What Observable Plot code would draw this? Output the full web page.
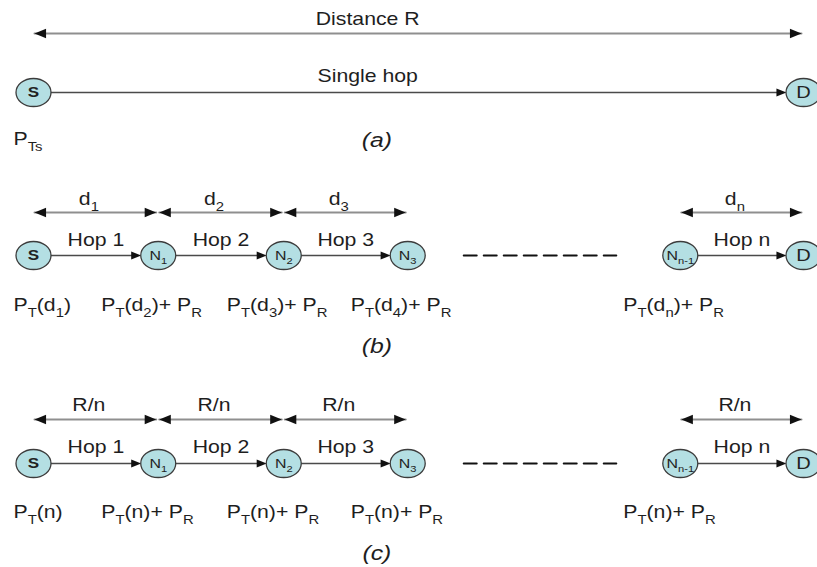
<!DOCTYPE html>
<html>
<head>
<meta charset="utf-8">
<script src="https://cdn.jsdelivr.net/npm/d3@7"></script>
<script src="https://cdn.jsdelivr.net/npm/@observablehq/plot@0.6"></script>
<style>
  html, body { margin: 0; padding: 0; background: #fff; }
  #chart { width: 817px; height: 567px; }
</style>
</head>
<body>
<div id="chart"></div>
<script>
// ---------------- DATA ----------------
// Panel (a): single hop between source and destination (positions as % of distance R)
const singleNodes = ["S", "D"];
const singlePos = [0, 100];
const singleSpanLabel = "Distance R";
const singleHopLabel = "Single hop";
const singlePowerLabel = "P_{Ts}";

// Panels (b), (c): multi-hop chain (positions as % of distance R)
const chainNodes = ["S", "N_1", "N_2", "N_3", "N_{n-1}", "D"];
const chainPos = [0, 16.2, 32.5, 48.6, 84.0, 100];
const hopFrom = [0, 1, 2, 4];
const hopTo = [1, 2, 3, 5];
const hopLabels = ["Hop 1", "Hop 2", "Hop 3", "Hop n"];
const gapFrom = 3, gapTo = 4; // dashed "..." between N3 and N(n-1)

const spanLabelsB = ["d_1", "d_2", "d_3", "d_n"];
const spanLabelsC = ["R/n", "R/n", "R/n", "R/n"];
const powerNodes = [0, 1, 2, 3, 4];
const powerLabelsB = ["P_T(d_1)", "P_T(d_2)+ P_R", "P_T(d_3)+ P_R", "P_T(d_4)+ P_R", "P_T(d_n)+ P_R"];
const powerLabelsC = ["P_T(n)", "P_T(n)+ P_R", "P_T(n)+ P_R", "P_T(n)+ P_R", "P_T(n)+ P_R"];
const captions = ["(a)", "(b)", "(c)"];
const captionPos = 44.6;
const titlePos = 43.4;

// ---------------- LAYOUT (pixel rows) ----------------
const rows = {
  a: {span: 33, spanText: 19, hopText: 76, node: 92, power: 139, caption: 140},
  b: {span: 212, spanText: 199, hopText: 240, node: 255, power: 305, caption: 346},
  c: {span: 419, spanText: 405, hopText: 447, node: 463, power: 512, caption: 553}
};

const FONT = "Liberation Sans, Arial, Helvetica, sans-serif";
const TEXT = "#1e1e1e";
const NODE_FILL = "#b4dfe3";
const NODE_STROKE = "#3c3c3c";
const SPAN_COLOR = "#8f8f8f";
const HOP_COLOR = "#4a4a4a";
const NODE_R = 14;     // ellipse "radius" (ry); rx = 1.25*ry
const NODE_INSET = 17; // half-width of node

// custom symbols
const ellipseSymbol = {
  draw(ctx, size) {
    const r = Math.sqrt(size / Math.PI), rx = r * 1.25, ry = r, k = 0.5523;
    ctx.moveTo(rx, 0);
    ctx.bezierCurveTo(rx, ry * k, rx * k, ry, 0, ry);
    ctx.bezierCurveTo(-rx * k, ry, -rx, ry * k, -rx, 0);
    ctx.bezierCurveTo(-rx, -ry * k, -rx * k, -ry, 0, -ry);
    ctx.bezierCurveTo(rx * k, -ry, rx, -ry * k, rx, 0);
    ctx.closePath();
  }
};
const headRight = {
  draw(ctx, size) {
    const r = Math.sqrt(size / Math.PI);
    ctx.moveTo(0, 0); ctx.lineTo(-2.1 * r, -0.85 * r); ctx.lineTo(-2.1 * r, 0.85 * r); ctx.closePath();
  }
};
const headLeft = {
  draw(ctx, size) {
    const r = Math.sqrt(size / Math.PI);
    ctx.moveTo(0, 0); ctx.lineTo(2.1 * r, -0.85 * r); ctx.lineTo(2.1 * r, 0.85 * r); ctx.closePath();
  }
};

// ---------------- BUILD TABLES ----------------
const spans = [], hops = [], nodes = [], spanTexts = [], hopTexts = [],
      powerFirst = [], powerRest = [], gaps = [], caps = [], titles = [];

// panel a
spans.push({x1: singlePos[0], x2: singlePos[1], y: rows.a.span});
titles.push({x: titlePos, y: rows.a.spanText, t: singleSpanLabel});
titles.push({x: titlePos, y: rows.a.hopText, t: singleHopLabel});
hops.push({x1: singlePos[0], x2: singlePos[1], y: rows.a.node});
singleNodes.forEach((n, i) => { nodes.push({x: singlePos[i], y: rows.a.node, name: n}); });
powerFirst.push({x: singlePos[0], y: rows.a.power, t: singlePowerLabel});

// panels b, c
[["b", spanLabelsB, powerLabelsB], ["c", spanLabelsC, powerLabelsC]].forEach(([p, spanL, powL]) => {
  const r = rows[p];
  hopFrom.forEach((f, i) => {
    const t = hopTo[i];
    spans.push({x1: chainPos[f], x2: chainPos[t], y: r.span});
    spanTexts.push({x: (chainPos[f] + chainPos[t]) / 2, y: r.spanText, t: spanL[i]});
    hops.push({x1: chainPos[f], x2: chainPos[t], y: r.node});
    hopTexts.push({x: (chainPos[f] + chainPos[t]) / 2, y: r.hopText, t: hopLabels[i]});
  });
  chainNodes.forEach((n, i) => nodes.push({x: chainPos[i], y: r.node, name: n}));
  powerNodes.forEach((ni, i) => {
    const d = {x: chainPos[ni], y: r.power, t: powL[i]};
    (i === 0 ? powerFirst : powerRest).push(d);
  });
  gaps.push({x1: chainPos[gapFrom], x2: chainPos[gapTo], y: r.node});
});
captions.forEach((c, i) => caps.push({x: captionPos, y: rows["abc"[i]].caption, t: c}));

const nodeTextSmall = nodes.filter(d => d.name.startsWith("N"));
const nodeS = nodes.filter(d => d.name === "S");
const nodeD = nodes.filter(d => d.name === "D");

// ---------------- PLOT ----------------
const plot = Plot.plot({
  width: 817, height: 567,
  margin: 0,
  style: {fontFamily: FONT, background: "#fff", color: TEXT},
  x: {domain: [0, 100], range: [33, 803], axis: null},
  y: {domain: [0, 567], range: [0, 567], axis: null},
  marks: [
    // distance spans
    Plot.arrow(spans, {x1: "x1", x2: "x2", y1: "y", y2: "y", stroke: SPAN_COLOR, strokeWidth: 2,
      headLength: 0, insetStart: 1, insetEnd: 2}),
    Plot.dot(spans, {x: "x1", y: "y", dx: 1, symbol: headLeft, r: 5.5, fill: "#111", stroke: "none"}),
    Plot.dot(spans, {x: "x2", y: "y", dx: -2, symbol: headRight, r: 5.5, fill: "#111", stroke: "none"}),
    // hop arrows
    Plot.arrow(hops, {x1: "x1", x2: "x2", y1: "y", y2: "y", stroke: HOP_COLOR, strokeWidth: 1.5,
      headLength: 0, insetStart: NODE_INSET, insetEnd: NODE_INSET + 6}),
    Plot.dot(hops, {x: "x2", y: "y", dx: -NODE_INSET, symbol: headRight, r: 4.8, fill: "#111", stroke: "none"}),
    // dashed gap
    Plot.arrow(gaps, {x1: "x1", x2: "x2", y1: "y", y2: "y", stroke: "#111", strokeWidth: 2,
      strokeDasharray: "13,7", headLength: 0, insetStart: 56, insetEnd: 64}),
    // nodes
    Plot.dot(nodes, {x: "x", y: "y", symbol: ellipseSymbol, r: NODE_R, fill: NODE_FILL,
      stroke: NODE_STROKE, strokeWidth: 1.3}),
    Plot.text(nodeS, {x: "x", y: "y", text: "name", fontSize: 14.5, fontWeight: "bold", fill: "#222"}),
    Plot.text(nodeD, {x: "x", y: "y", text: "name", fontSize: 17, fill: "#222"}),
    Plot.text(nodeTextSmall, {x: "x", y: "y", text: "name", fontSize: 13.5, fill: "#222"}),
    // texts
    Plot.text(titles, {x: "x", y: "y", text: "t", fontSize: 18, fill: TEXT}),
    Plot.text(spanTexts, {x: "x", y: "y", text: "t", fontSize: 18, dx: -7, fill: TEXT}),
    Plot.text(hopTexts, {x: "x", y: "y", text: "t", fontSize: 18, fill: TEXT}),
    Plot.text(powerFirst, {x: "x", y: "y", text: "t", fontSize: 18, textAnchor: "start", dx: -20, fill: TEXT}),
    Plot.text(powerRest, {x: "x", y: "y", text: "t", fontSize: 18, textAnchor: "start", dx: -57, fill: TEXT}),
    Plot.text(caps, {x: "x", y: "y", text: "t", fontSize: 21, fontStyle: "italic", fill: TEXT})
  ]
});
document.getElementById("chart").appendChild(plot);

// ---------------- POST: subscripts + horizontal stretch ----------------
const NS = "http://www.w3.org/2000/svg";
plot.querySelectorAll("text").forEach(t => {
  const s = t.textContent;
  const fs = parseFloat(getComputedStyle(t).fontSize) || 16;
  if (s.includes("_")) {
    t.textContent = "";
    const parts = s.split(/(_\{[^}]*\}|_.)/);
    let shifted = false;
    const shift = fs * 0.32;
    for (const p of parts) {
      if (!p) continue;
      const ts = document.createElementNS(NS, "tspan");
      if (p[0] === "_") {
        ts.textContent = p[1] === "{" ? p.slice(2, -1) : p.slice(1);
        ts.setAttribute("font-size", (fs * 0.7).toFixed(2));
        if (!shifted) ts.setAttribute("dy", shift.toFixed(2));
        shifted = true;
      } else {
        ts.textContent = p;
        if (shifted) { ts.setAttribute("dy", (-shift).toFixed(2)); shifted = false; }
      }
      t.appendChild(ts);
    }
  }
  // stretch horizontally about the anchor point (Plot places text via transform)
  const tr = t.getAttribute("transform") || "";
  t.setAttribute("transform", (tr + " scale(1.18,1)").trim());
});
</script>
</body>
</html>
